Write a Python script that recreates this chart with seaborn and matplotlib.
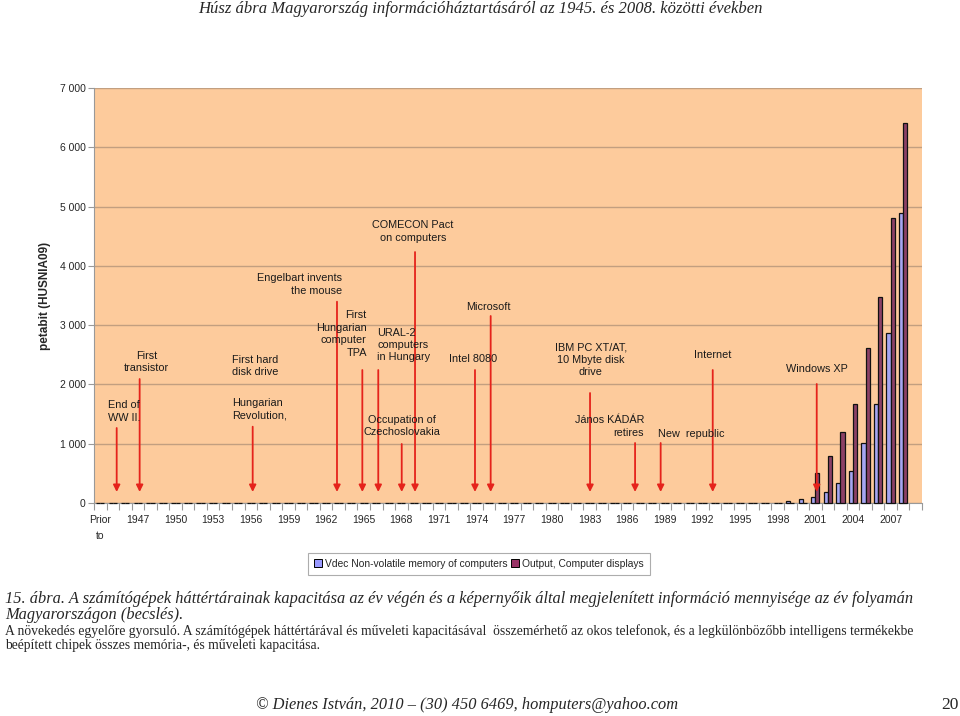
import pandas as pd
import matplotlib.pyplot as plt
import matplotlib.ticker as mticker
from matplotlib.patches import Patch
import seaborn as sns

# categories: "Prior to" + every year 1945..2008
categories = ["Prior to"] + [str(y) for y in range(1945, 2009)]

nonvolatile_memory = [
    0,                              # prior to 1945
    0, 0, 0, 0, 0, 0, 0, 0, 0, 0,   # 1945-1954
    0, 0, 0, 0, 0, 0, 0, 0, 0, 0,   # 1955-1964
    0, 0, 0, 0, 0, 0, 0, 0, 0, 0,   # 1965-1974
    0, 0, 0, 0, 0, 0, 0, 0, 0, 0,   # 1975-1984
    0, 0, 0, 0, 0, 0, 0, 0, 0, 0,   # 1985-1994
    0, 0, 0, 0,                     # 1995-1998
    35, 60,                         # 1999-2000
    106, 191, 332, 540, 1017, 1665, 2872, 4886,  # 2001-2008
]

display_output = [
    0,
    0, 0, 0, 0, 0, 0, 0, 0, 0, 0,
    0, 0, 0, 0, 0, 0, 0, 0, 0, 0,
    0, 0, 0, 0, 0, 0, 0, 0, 0, 0,
    0, 0, 0, 0, 0, 0, 0, 0, 0, 0,
    0, 0, 0, 0, 0, 0, 0, 0, 0, 0,
    0, 0, 0, 0,
    0, 0,
    514, 793, 1203, 1665, 2619, 3480, 4802, 6414,
]

series_names = ["Vdec Non-volatile memory of computers", "Output, Computer displays"]

# historical events marked with red arrows
event_labels = [
    "End of\nWW II.", "First\ntransistor", "First hard\ndisk drive", "Hungarian\nRevolution,",
    "Engelbart invents\nthe mouse", "First\nHungarian\ncomputer\nTPA", "URAL-2\ncomputers\nin Hungary",
    "COMECON Pact\non computers", "Occupation of\nCzechoslovakia", "Intel 8080", "Microsoft",
    "IBM PC XT/AT,\n10 Mbyte disk\ndrive", "János KÁDÁR\nretires", "New  republic", "Internet",
    "Windows XP",
]
# arrow x (category position), None = no own arrow
event_x = [1.31, 3.14, None, 12.15, 18.87, 20.89, 22.16, 25.09, 24.03, 29.87, 31.12,
           39.04, 42.63, 44.67, 48.82, 57.11]
# label placement: (x, y, ha), arrow start y
label_layout = [
    (0.62, 1543, "left"), (3.7, 2378, "center"), (10.48, 2311, "left"), (10.48, 1585, "left"),
    (19.29, 3685, "right"), (21.24, 2850, "right"), (22.08, 2665, "left"), (24.93, 4579, "center"),
    (24.08, 1299, "center"), (29.74, 2429, "center"), (30.91, 3314, "center"), (39.09, 2412, "center"),
    (43.34, 1287, "right"), (44.48, 1169, "left"), (48.82, 2496, "center"), (57.11, 2260, "center"),
]
arrow_start = [1265, 2091, None, 1287, 3395, 2243, 2243, 4233, 995, 2243, 3154, 1855, 1012, 1012, 2243, 2007]

df = pd.DataFrame({
    "year": categories * 2,
    "value": nonvolatile_memory + display_output,
    "series": [series_names[0]] * len(categories) + [series_names[1]] * len(categories),
})

sns.set_style("ticks")
plt.rcParams["font.family"] = ["Liberation Sans", "DejaVu Sans"]

colors = ["#9999FF", "#993366"]
fig = plt.figure(figsize=(9.6, 7.16), dpi=100)
ax = fig.add_axes([0.0979, 0.2975, 0.8625, 0.5796])
ax.set_facecolor("#FDCB9C")

sns.barplot(data=df, x="year", y="value", hue="series", order=categories, hue_order=series_names,
            palette=colors, width=0.66, edgecolor="#111111", linewidth=0.9, errorbar=None,
            legend=False, ax=ax, zorder=3, clip_on=False)

ax.set_ylim(0, 7000)
ax.set_xlim(-0.5, len(categories) + 0.5)
ax.yaxis.set_major_locator(mticker.MultipleLocator(1000))
ax.yaxis.set_major_formatter(mticker.FuncFormatter(lambda v, p: f"{v:,.0f}".replace(",", " ")))
ax.grid(axis="y", color="#C29F80", linewidth=1, zorder=0)
ax.set_axisbelow(True)

tick_pos = list(range(0, len(categories), 3))
tick_lab = ["Prior\nto" if categories[i] == "Prior to" else categories[i] for i in tick_pos]
ax.set_xticks(tick_pos)
ax.set_xticklabels(tick_lab, fontsize=7.5)
for t in ax.get_xticklabels():
    t.set_linespacing(1.75)
ax.set_xticks([i - 0.5 for i in range(len(categories) + 2)], minor=True)
ax.tick_params(axis="x", which="major", length=0, pad=9)
ax.tick_params(axis="x", which="minor", length=5, color="#999999", width=0.8)
ax.tick_params(axis="y", length=4, color="#999999", width=0.8, labelsize=7.5, pad=2)

for s in ["top", "right"]:
    ax.spines[s].set_visible(False)
ax.spines["left"].set_color("#999999")
ax.spines["bottom"].set_color("#999999")

ax.set_xlabel("")
ax.set_ylabel("petabit (HUSNIA09)", fontsize=8.5, fontweight="bold")
ax.yaxis.set_label_coords(-0.052, 0.5)

red = "#E5231B"
for lab, ex, (lx, ly, ha), ay in zip(event_labels, event_x, label_layout, arrow_start):
    ax.text(lx, ly, lab, ha=ha, va="center", fontsize=7.8, linespacing=1.3, color="#1a1a1a", zorder=5)
    if ex is not None:
        ax.annotate("", xy=(ex, 186), xytext=(ex, ay),
                    arrowprops=dict(arrowstyle="-|>", color=red, lw=1.3, mutation_scale=10,
                                    shrinkA=0, shrinkB=0), zorder=4)

handles = [Patch(facecolor=c, edgecolor="black", linewidth=0.7) for c in colors]
leg = ax.legend(handles, series_names, loc="center", bbox_to_anchor=(0.465, -0.147), ncol=2,
                frameon=True, fancybox=False, fontsize=7.4, handlelength=0.8, handleheight=0.8,
                handletextpad=0.3, columnspacing=0.3, borderpad=0.6, borderaxespad=0)
leg.get_frame().set_edgecolor("#999999")
leg.get_frame().set_linewidth(0.8)

serif = ["Liberation Serif", "DejaVu Serif"]
fig.text(0.5, 1 - 9 / 716, "Húsz ábra Magyarország információháztartásáról az 1945. és 2008. közötti években",
         ha="center", va="center", fontsize=12, style="italic", family=serif)
fig.text(5 / 960, 1 - 599 / 716,
         "15. ábra. A számítógépek háttértárainak kapacitása az év végén és a képernyőik által megjelenített "
         "információ mennyisége az év folyamán", ha="left", va="center", fontsize=11.8, style="italic", family=serif)
fig.text(5 / 960, 1 - 615 / 716, "Magyarországon (becslés).", ha="left", va="center", fontsize=11.8,
         style="italic", family=serif)
fig.text(5 / 960, 1 - 631 / 716,
         "A növekedés egyelőre gyorsuló. A számítógépek háttértárával és műveleti kapacitásával  összemérhető "
         "az okos telefonok, és a legkülönbözőbb intelligens termékekbe", ha="left", va="center",
         fontsize=9.8, family=serif)
fig.text(5 / 960, 1 - 646 / 716, "beépített chipek összes memória-, és műveleti kapacitása.", ha="left",
         va="center", fontsize=9.8, family=serif)
fig.text(467 / 960, 1 - 705 / 716, "© Dienes István, 2010 – (30) 450 6469, homputers@yahoo.com",
         ha="center", va="center", fontsize=11.8, style="italic", family=serif)
fig.text(950 / 960, 1 - 705 / 716, "20", ha="center", va="center", fontsize=12.5, family=serif)

fig.savefig("out.png", dpi=100)
